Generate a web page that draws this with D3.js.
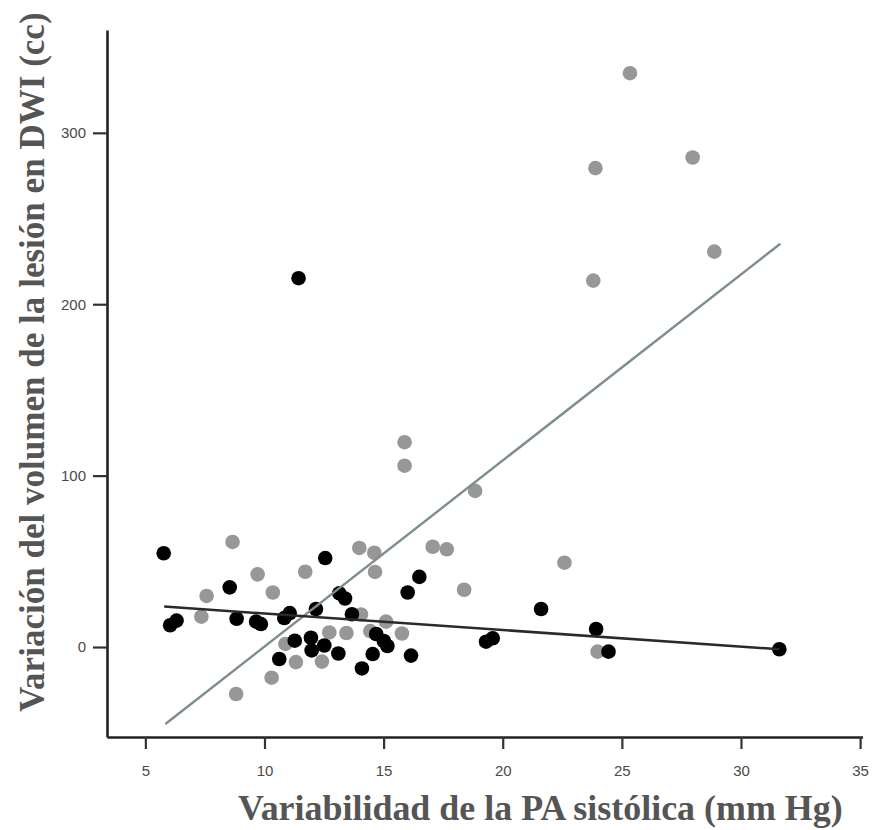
<!DOCTYPE html>
<html>
<head>
<meta charset="utf-8">
<script src="https://cdn.jsdelivr.net/npm/d3@7/dist/d3.min.js"></script>
<style>
  html, body { margin: 0; padding: 0; background: #fff; }
  svg { display: block; }
</style>
</head>
<body>
<svg id="chart" width="873" height="830"></svg>
<script>
// ---- Data ----
// Black series: x = variabilidad PA sistólica (mm Hg), y = variación volumen (cc)
const blackX = [5.77, 6.04, 6.31, 8.54, 8.83, 9.65, 9.85, 10.62, 10.83, 11.06, 11.27, 11.43,
  11.95, 11.98, 12.16, 12.51, 12.55, 13.10, 13.14, 13.38, 13.67, 14.09, 14.54, 14.69, 15.01,
  15.16, 16.01, 16.15, 16.50, 19.30, 19.58, 21.61, 23.92, 24.44, 31.61];
const blackY = [54.7, 12.7, 15.4, 34.8, 16.5, 14.8, 13.4, -7.0, 16.9, 19.8, 3.7, 215.2,
  5.4, -2.0, 22.2, 0.9, 51.9, -3.8, 31.3, 28.3, 19.1, -12.5, -4.1, 7.6, 3.5,
  0.6, 31.8, -5.0, 40.9, 3.1, 5.1, 22.2, 10.5, -2.7, -1.3];

// Grey series
const greyX = [7.35, 7.57, 8.66, 8.81, 9.71, 10.30, 10.35, 10.88, 11.32, 11.71, 12.41, 12.72,
  13.44, 13.98, 14.05, 14.44, 14.61, 14.64, 15.10, 15.77, 15.88, 15.88, 17.06, 17.65, 18.38,
  18.84, 22.59, 23.98, 23.80, 23.89, 25.34, 27.97, 28.88];
const greyY = [17.7, 29.8, 61.3, -27.4, 42.4, -17.9, 31.8, 1.8, -8.8, 43.9, -8.5, 8.5,
  8.2, 57.8, 19.0, 9.3, 55.0, 43.8, 14.8, 7.9, 119.5, 105.8, 58.5, 57.0, 33.4,
  91.1, 49.2, -2.7, 213.8, 279.4, 334.8, 285.6, 230.7];

// Fit lines (endpoints)
const greyFitX = [5.84, 31.65];
const greyFitY = [-44.9, 235.3];
const blackFitX = [5.79, 31.61];
const blackFitY = [23.6, -1.3];

const xTicks = [5, 10, 15, 20, 25, 30, 35];
const yTicks = [0, 100, 200, 300];

const xTitle = "Variabilidad de la PA sistólica (mm Hg)";
const yTitle = "Variación del volumen de la lesión en DWI (cc)";

// ---- Drawing ----
const svg = d3.select("#chart");
const x = d3.scaleLinear().domain([3.39, 35.1]).range([107, 862.5]);
const y = d3.scaleLinear().domain([-52.5, 360]).range([737, 30]);

// Axes
const xAxis = d3.axisBottom(x).tickValues(xTicks).tickSize(12).tickSizeOuter(0).tickPadding(16);
const yAxis = d3.axisLeft(y).tickValues(yTicks).tickSize(14).tickSizeOuter(0).tickPadding(7);

const gx = svg.append("g").attr("transform", `translate(0,${y.range()[0]})`).call(xAxis);
const gy = svg.append("g").attr("transform", `translate(${x.range()[0]},0)`).call(yAxis);

[gx, gy].forEach(g => {
  g.select(".domain").attr("stroke", "#222").attr("stroke-width", 2.6);
  g.selectAll(".tick line").attr("stroke", "#333").attr("stroke-width", 2.2);
  g.selectAll(".tick text")
    .attr("fill", "#4a4a4a")
    .style("font-family", "'Liberation Sans', Arial, sans-serif")
    .style("font-size", "15px");
});

// Grey points
svg.append("g").selectAll("circle")
  .data(greyX.map((v, i) => [v, greyY[i]]))
  .join("circle")
  .attr("cx", d => x(d[0]))
  .attr("cy", d => y(d[1]))
  .attr("r", 7.3)
  .attr("fill", "#979797");

// Black points
svg.append("g").selectAll("circle")
  .data(blackX.map((v, i) => [v, blackY[i]]))
  .join("circle")
  .attr("cx", d => x(d[0]))
  .attr("cy", d => y(d[1]))
  .attr("r", 7.3)
  .attr("fill", "#000");

// Fit lines
const line = d3.line().x(d => x(d[0])).y(d => y(d[1]));
svg.append("path")
  .datum(greyFitX.map((v, i) => [v, greyFitY[i]]))
  .attr("d", line)
  .attr("fill", "none")
  .attr("stroke", "#7d8f86")
  .attr("stroke-width", 2.4);
svg.append("path")
  .datum(blackFitX.map((v, i) => [v, blackFitY[i]]))
  .attr("d", line)
  .attr("fill", "none")
  .attr("stroke", "#2a2a2a")
  .attr("stroke-width", 2.6);

// Axis titles (condensed horizontally with a scale transform to fit target width)
function condensedTitle(txt, tx, ty, rot, targetLen) {
  const g = svg.append("g");
  const t = g.append("text")
    .attr("x", 0).attr("y", 0)
    .attr("fill", "#555")
    .style("font-family", "'Liberation Serif', 'Times New Roman', serif")
    .style("font-weight", "bold")
    .style("font-size", "36px")
    .text(txt);
  const natural = t.node().getComputedTextLength();
  const sx = targetLen / natural;
  g.attr("transform", `translate(${tx},${ty}) rotate(${rot}) scale(${sx},1)`);
}
condensedTitle(xTitle, 238, 820, 0, 605);
condensedTitle(yTitle, 44, 712, -90, 700);
</script>
</body>
</html>
